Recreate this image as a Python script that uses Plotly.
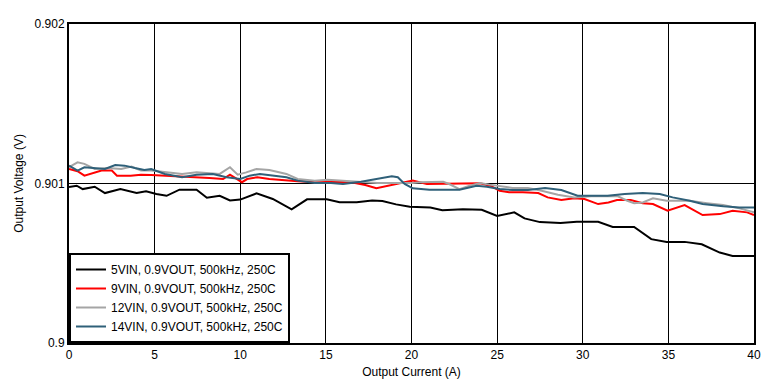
import plotly.graph_objects as go

# Output current (A) and output voltage (V) per series
i_5vin = [0.0, 0.45, 0.8, 1.5, 2.1, 3.0, 3.95, 4.5, 5.1, 5.7, 6.45, 7.45, 8.05, 8.8, 9.4, 10.0,
          10.95, 11.9, 13.0, 13.9, 15.05, 15.8, 16.8, 17.7, 18.3, 19.1, 19.9, 21.1, 21.8, 23.0,
          24.1, 25.0, 26.0, 26.6, 27.5, 28.7, 29.65, 30.9, 31.75, 33.0, 34.0, 34.9, 35.95, 36.95,
          38.0, 38.75, 40.0]
v_5vin = [0.900978, 0.900986, 0.900965, 0.900980, 0.900940, 0.900965, 0.900940, 0.900951,
          0.900934, 0.900923, 0.900961, 0.900961, 0.900911, 0.900923, 0.900894, 0.900899,
          0.900938, 0.900903, 0.900838, 0.900901, 0.900901, 0.900882, 0.900882, 0.900894,
          0.900890, 0.900869, 0.900854, 0.900850, 0.900833, 0.900838, 0.900835, 0.900796,
          0.900819, 0.900781, 0.900758, 0.900752, 0.900760, 0.900760, 0.900728, 0.900728,
          0.900651, 0.900634, 0.900634, 0.900619, 0.900567, 0.900546, 0.900546]

i_9vin = [0.0, 0.5, 0.9, 1.5, 1.9, 2.5, 2.8, 3.6, 4.2, 4.8, 5.6, 6.6, 7.2, 8.2, 9.0, 9.4, 9.7,
          10.1, 10.4, 11.0, 11.7, 12.3, 13.35, 14.35, 15.1, 15.9, 16.7, 17.3, 17.95, 18.6, 19.2,
          19.6, 20.07, 20.9, 21.8, 23.2, 24.0, 24.6, 25.15, 25.7, 26.5, 27.4, 27.95, 28.75, 29.5,
          30.1, 30.9, 31.5, 32.0, 32.8, 33.5, 34.1, 34.95, 35.95, 36.4, 37.0, 38.0, 38.75, 39.6,
          40.0]
v_9vin = [0.901091, 0.901077, 0.901049, 0.901070, 0.901081, 0.901081, 0.901049, 0.901049,
          0.901055, 0.901053, 0.901049, 0.901043, 0.901043, 0.901035, 0.901028, 0.901055,
          0.901035, 0.901008, 0.901028, 0.901039, 0.901028, 0.901022, 0.901014, 0.901008,
          0.901011, 0.901011, 0.901003, 0.900991, 0.900970, 0.900986, 0.900997, 0.901011,
          0.901018, 0.900997, 0.900997, 0.900997, 0.901001, 0.900986, 0.900955, 0.900945,
          0.900945, 0.900940, 0.900913, 0.900896, 0.900907, 0.900903, 0.900871, 0.900881,
          0.900896, 0.900896, 0.900876, 0.900871, 0.900829, 0.900865, 0.900840, 0.900802,
          0.900808, 0.900829, 0.900819, 0.900802]

i_12vin = [0.0, 0.5, 0.9, 1.5, 2.25, 3.05, 3.65, 4.2, 4.8, 5.6, 6.6, 7.45, 8.8, 9.4, 9.85, 10.35,
           10.95, 11.7, 12.7, 13.35, 14.35, 15.1, 16.1, 17.05, 18.0, 19.0, 20.07, 20.5, 21.85,
           22.2, 22.8, 23.4, 24.0, 24.55, 25.3, 25.9, 26.8, 27.6, 28.55, 29.5, 30.5, 32.05, 32.6,
           33.0, 33.5, 34.1, 34.9, 36.25, 37.25, 38.2, 39.15, 40.0]
v_12vin = [0.901102, 0.901133, 0.901123, 0.901091, 0.901097, 0.901091, 0.901106, 0.901081,
           0.901081, 0.901070, 0.901060, 0.901070, 0.901060, 0.901102, 0.901055, 0.901070,
           0.901091, 0.901085, 0.901060, 0.901028, 0.901018, 0.901024, 0.901018, 0.901011,
           0.901003, 0.901003, 0.901003, 0.901008, 0.901011, 0.900997, 0.900965, 0.900986,
           0.901003, 0.900993, 0.900980, 0.900972, 0.900972, 0.900955, 0.900930, 0.900913,
           0.900920, 0.900920, 0.900892, 0.900876, 0.900881, 0.900907, 0.900892, 0.900892,
           0.900877, 0.900865, 0.900844, 0.900819]

i_14vin = [0.0, 0.5, 0.9, 1.5, 2.1, 2.7, 3.25, 3.85, 4.4, 4.8, 5.6, 6.6, 7.45, 8.4, 9.2, 10.0,
           10.55, 11.15, 11.9, 12.7, 13.35, 14.35, 15.3, 16.0, 17.05, 18.0, 18.85, 19.2, 19.6,
           20.07, 21.05, 22.8, 23.8, 24.4, 25.15, 25.9, 26.8, 27.8, 28.75, 29.7, 30.5, 31.45,
           32.45, 33.5, 34.5, 35.25, 36.25, 37.0, 38.2, 39.15, 40.0]
v_14vin = [0.901112, 0.901081, 0.901102, 0.901097, 0.901091, 0.901116, 0.901112, 0.901097,
           0.901085, 0.901091, 0.901060, 0.901039, 0.901055, 0.901060, 0.901039, 0.901028,
           0.901049, 0.901060, 0.901049, 0.901039, 0.901018, 0.901003, 0.901003, 0.900997,
           0.901011, 0.901028, 0.901045, 0.901039, 0.900997, 0.900970, 0.900961, 0.900961,
           0.900986, 0.900980, 0.900965, 0.900959, 0.900959, 0.900972, 0.900959, 0.900923,
           0.900923, 0.900923, 0.900934, 0.900940, 0.900934, 0.900913, 0.900892, 0.900871,
           0.900857, 0.900850, 0.900850]

series_names = ["5VIN, 0.9VOUT, 500kHz, 250C", "9VIN, 0.9VOUT, 500kHz, 250C",
                "12VIN, 0.9VOUT, 500kHz, 250C", "14VIN, 0.9VOUT, 500kHz, 250C"]
series_colors = ["#000000", "#FF0000", "#A5A5A5", "#2F6079"]

x_ticks = [0, 5, 10, 15, 20, 25, 30, 35, 40]
y_ticks = [0.9, 0.901, 0.902]
y_tick_labels = ["0.9", "0.901", "0.902"]

fig = go.Figure()
data = [(i_5vin, v_5vin), (i_9vin, v_9vin), (i_12vin, v_12vin), (i_14vin, v_14vin)]
for (xs, ys), name, color in zip(data, series_names, series_colors):
    fig.add_trace(go.Scatter(x=xs, y=ys, mode="lines", name=name,
                             line=dict(color=color, width=2)))

font_family = "Liberation Sans, Arial, sans-serif"
# the page body adds an 8px offset; margins compensate so the plot area lands at 69..754 x 24..343
fig.update_layout(
    width=780, height=383,
    margin=dict(l=61, r=34, t=16, b=48, autoexpand=False),
    paper_bgcolor="white", plot_bgcolor="white",
    font=dict(family=font_family, size=12, color="black"),
    showlegend=True,
    legend=dict(x=0, y=0, xanchor="left", yanchor="bottom",
                bgcolor="white", bordercolor="black", borderwidth=2,
                font=dict(size=12), tracegroupgap=0, itemwidth=30),
    xaxis=dict(range=[0, 40], tickvals=x_ticks, showgrid=True, gridcolor="black",
               gridwidth=1, showline=True, linecolor="black", linewidth=2, mirror=True,
               ticks="", zeroline=False, automargin=False,
               title=dict(text="Output Current (A)", standoff=6, font=dict(size=12))),
    yaxis=dict(range=[0.9, 0.902], tickvals=y_ticks, ticktext=y_tick_labels, showgrid=True,
               gridcolor="black", gridwidth=1, showline=True, linecolor="black", linewidth=2,
               mirror=True, ticks="", zeroline=False, automargin=False,
               title=dict(text="Output Voltage (V)", standoff=8, font=dict(size=12))),
)

fig.write_html("out.html")
